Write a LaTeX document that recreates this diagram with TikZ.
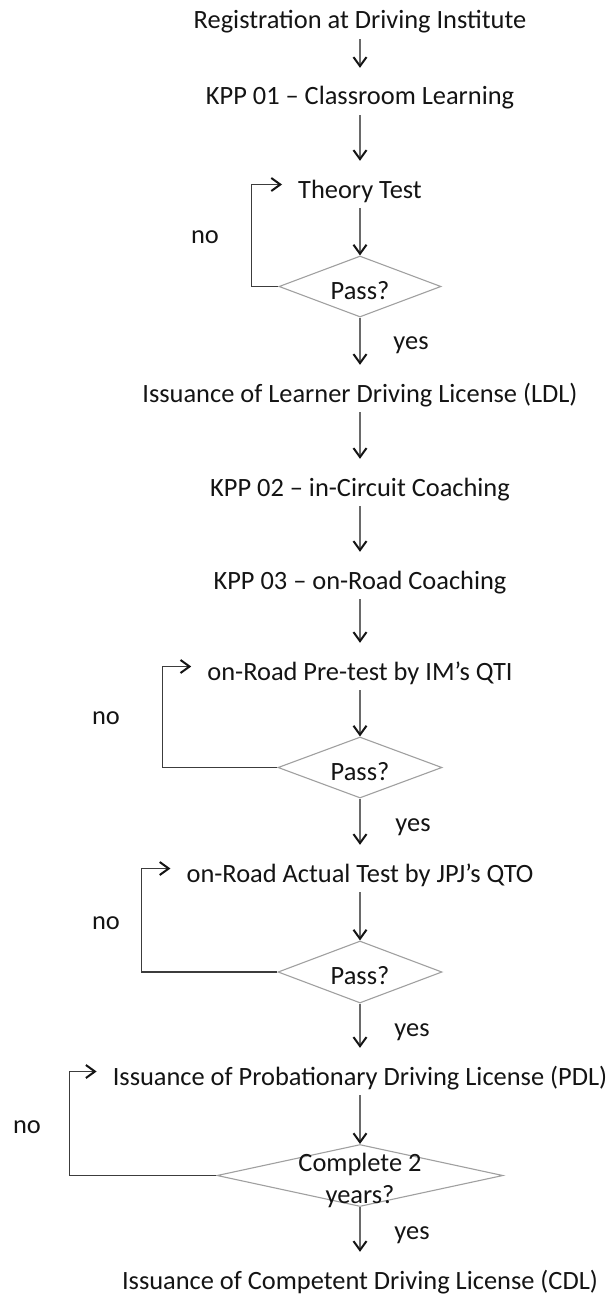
\documentclass[tikz,border=0pt]{standalone}
\usepackage{fontspec}
\setmainfont{Carlito}
\usetikzlibrary{arrows.meta,shapes.geometric}
\definecolor{txtc}{HTML}{141414}
\definecolor{linec}{HTML}{6A6A6A}
\definecolor{loopc}{HTML}{3C3C3C}
\definecolor{dia}{HTML}{A0A0A0}
\begin{document}
\begin{tikzpicture}[x=1pt,y=-1pt,
  txt/.style={font=\fontsize{26.4}{32}\selectfont, text=txtc, inner xsep=16pt, inner ysep=0pt, text height=37pt, text depth=10pt, anchor=base},
  dec/.style={diamond, draw=dia, line width=1.1pt, inner sep=0pt, minimum width=164pt, minimum height=61pt},
  flow/.style={draw=linec, line width=1.6pt, -{Straight Barb[length=9pt,width=13pt,line width=2pt,color=txtc]}},
  back/.style={draw=loopc, line width=1.6pt, -{Straight Barb[length=9pt,width=13pt,line width=2pt,color=txtc]}},
  lbl/.style={font=\fontsize{26.4}{32}\selectfont, text=txtc, inner sep=0pt},
  side/.style={lbl, anchor=base}]
\useasboundingbox (0,0) rectangle (613,1295);
\fill[white] (0,0) rectangle (613,1295);

\node[txt] (reg) at (360,29) {Registration at Driving Institute};
\node[txt] (k1) at (360,105) {KPP 01 – Classroom Learning};
\node[txt] (th) at (360,198) {Theory Test};
\node[dec, minimum width=162pt, label={[lbl,yshift=-4pt]center:Pass?}] (d1) at (360,286.5) {};
\node[txt] (ldl) at (360,402) {Issuance of Learner Driving License (LDL)};
\node[txt] (k2) at (360,496) {KPP 02 – in-Circuit Coaching};
\node[txt] (k3) at (360,589) {KPP 03 – on-Road Coaching};
\node[txt] (pre) at (360,680) {on-Road Pre-test by IM’s QTI};
\node[dec, label={[lbl,yshift=-4pt]center:Pass?}] (d2) at (360,767.5) {};
\node[txt] (act) at (360,882) {on-Road Actual Test by JPJ’s QTO};
\node[dec, minimum height=62pt, label={[lbl,yshift=-4pt]center:Pass?}] (d3) at (360,972) {};
\node[txt] (pdl) at (360,1085) {Issuance of Probationary Driving License (PDL)};
\node[dec, minimum width=286pt, minimum height=62pt, label={[lbl,align=center,yshift=-5pt]center:Complete 2\\years?}] (d4) at (360,1175.5) {};
\node[txt] (cdl) at (360,1289) {Issuance of Competent Driving License (CDL)};

\draw[flow] (reg.south) -- (k1.north);
\draw[flow] (k1.south) -- (th.north);
\draw[flow] (th.south) -- (d1.north);
\draw[flow] (d1.south) -- (ldl.north);
\draw[flow] (ldl.south) -- (k2.north);
\draw[flow] (k2.south) -- (k3.north);
\draw[flow] (k3.south) -- (pre.north);
\draw[flow] (pre.south) -- (d2.north);
\draw[flow] (d2.south) -- (act.north);
\draw[flow] (act.south) -- (d3.north);
\draw[flow] (d3.south) -- (pdl.north);
\draw[flow] (pdl.south) -- (d4.north);
\draw[flow] (d4.south) -- (cdl.north);

\draw[back] (d1.west) -- ++(-27,0) |- (th.west);
\draw[back] (d2.west) -- ++(-115,0) |- (pre.west);
\draw[back] (d3.west) -- ++(-136,0) |- (act.west);
\draw[back] (d4.west) -- ++(-147,0) |- (pdl.west);

\node[side] (no1) at (205,243) {no};
\node[side] (no2) at (106,724) {no};
\node[side] (no3) at (106,929) {no};
\node[side] (no4) at (27,1133) {no};
\node[side] (yes1) at (411,349) {yes};
\node[side] (yes2) at (413,831) {yes};
\node[side] (yes3) at (412,1036) {yes};
\node[side] (yes4) at (412,1239) {yes};
\end{tikzpicture}
\end{document}
